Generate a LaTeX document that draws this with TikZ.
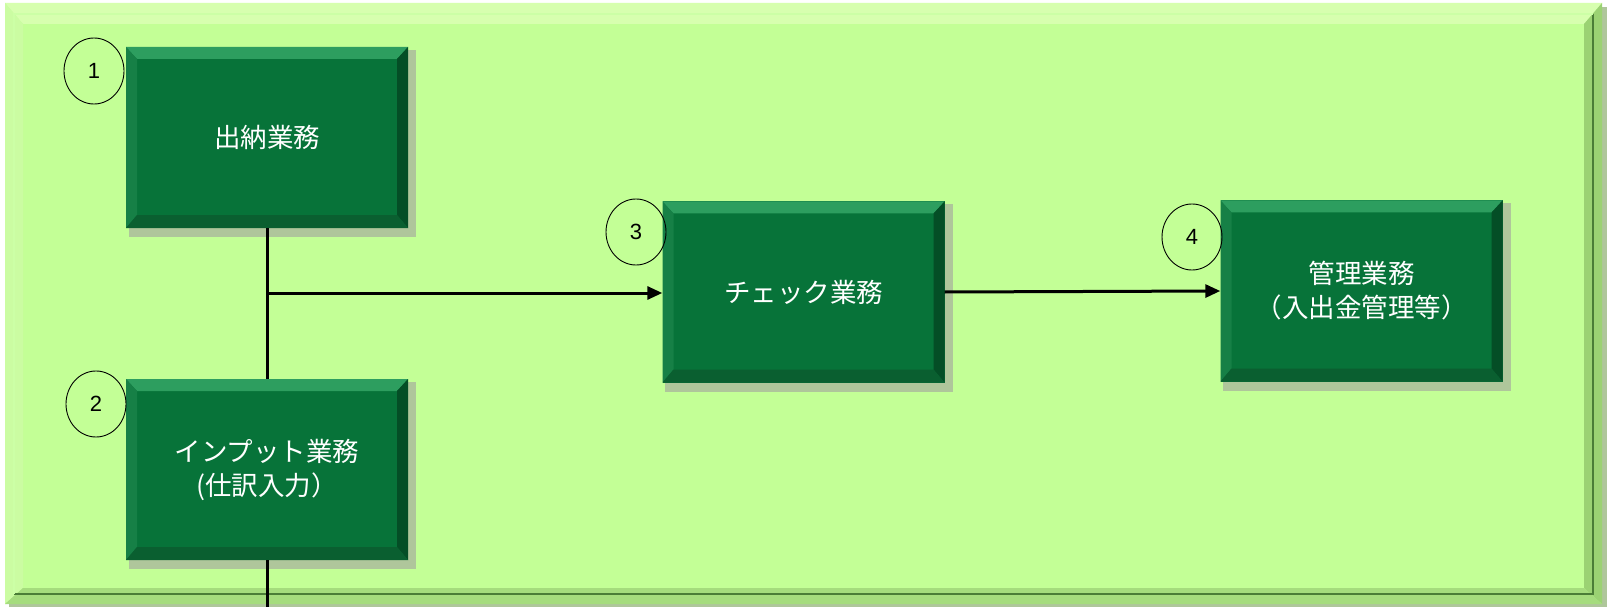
\documentclass[tikz,border=0pt]{standalone}
\usepackage{fontspec}
\setmainfont{Liberation Sans}
\newfontfamily\jpfont{Noto Sans CJK JP}
\usetikzlibrary{shapes.geometric,arrows.meta}
\definecolor{panelc}{RGB}{195,255,150}
\definecolor{paneltop}{RGB}{215,255,175}
\definecolor{panelleft}{RGB}{203,252,162}
\definecolor{panelright}{RGB}{155,210,115}
\definecolor{panelbot}{RGB}{165,220,125}
\definecolor{paneldark}{RGB}{75,125,55}
\definecolor{shadowc}{RGB}{175,198,155}
\definecolor{boxc}{RGB}{7,115,57}
\definecolor{boxtop}{RGB}{45,158,95}
\definecolor{boxleft}{RGB}{22,128,70}
\definecolor{boxright}{RGB}{4,78,38}
\definecolor{boxbot}{RGB}{10,95,48}
\pgfdeclarelayer{panellayer}
\pgfdeclarelayer{shadelayer}
\pgfsetlayers{panellayer,shadelayer,main}
\tikzset{
  bevelbox/.style={minimum width=282bp, minimum height=181bp, inner sep=0pt,
    fill=boxc, text=white, align=center,
    font=\jpfont\fontsize{26.5bp}{34bp}\selectfont,
    path picture={
      \fill[boxtop] (path picture bounding box.north west) -- (path picture bounding box.north east)
        -- ([shift={(-11bp,-12bp)}]path picture bounding box.north east)
        -- ([shift={(11bp,-12bp)}]path picture bounding box.north west) -- cycle;
      \fill[boxleft] (path picture bounding box.north west) -- (path picture bounding box.south west)
        -- ([shift={(11bp,13bp)}]path picture bounding box.south west)
        -- ([shift={(11bp,-12bp)}]path picture bounding box.north west) -- cycle;
      \fill[boxright] (path picture bounding box.north east) -- (path picture bounding box.south east)
        -- ([shift={(-11bp,13bp)}]path picture bounding box.south east)
        -- ([shift={(-11bp,-12bp)}]path picture bounding box.north east) -- cycle;
      \fill[boxbot] (path picture bounding box.south west) -- (path picture bounding box.south east)
        -- ([shift={(-11bp,13bp)}]path picture bounding box.south east)
        -- ([shift={(11bp,13bp)}]path picture bounding box.south west) -- cycle;
    }},
  numcircle/.style={ellipse, draw=black, line width=0.9bp, minimum width=60bp,
    minimum height=66bp, inner sep=0pt, font=\fontsize{22bp}{26bp}\selectfont},
  conn/.style={line width=3bp, draw=black},
  arr/.style={conn, -{Triangle[length=15bp,width=13bp]}},
}
\begin{document}
\begin{tikzpicture}[x=1bp,y=-1bp]
\useasboundingbox (0,0) rectangle (1607,607);

% boxes
\node[bevelbox] (b1) at (267,137.5) {出納業務};
\node[bevelbox] (b2) at (267,469.5) {インプット業務\\(仕訳入力）};
\node[bevelbox] (b3) at (803.5,292) {チェック業務};
\node[bevelbox] (b4) at (1361.5,291) {管理業務\\（入出金管理等）};

% panel and shadows
\begin{pgfonlayer}{panellayer}
  \fill[white] (0,0) rectangle (1607,607);
  \fill[shadowc] (9,7) rectangle (1607,607);
  \fill[panelc] (5,3) rectangle (1602,604);
  \fill[paneltop] (5,3) -- (1602,3) -- (1584,24) -- (23,24) -- cycle;
  \fill[panelleft] (5,3) -- (5,604) -- (23,588) -- (23,24) -- cycle;
  \fill[panelright] (1602,3) -- (1602,604) -- (1584,588) -- (1584,24) -- cycle;
  \fill[panelbot] (5,604) -- (1602,604) -- (1584,588) -- (23,588) -- cycle;
  \draw[paneldark, line width=2.5bp] (1593,14) -- (1593,594) -- (14,594);
  \draw[panelc!85!white, line width=1.5bp] (14,594) -- (14,14) -- (1593,14);
\end{pgfonlayer}
\begin{pgfonlayer}{shadelayer}
  \foreach \b in {b1,b2,b3,b4}{
    \fill[shadowc] ([shift={(3bp,-3bp)}]\b.north west) rectangle ([shift={(8bp,-9bp)}]\b.south east);
  }
\end{pgfonlayer}

% number circles
\node[numcircle] (c1) at (94,71) {1};
\node[numcircle] (c2) at (96,404) {2};
\node[numcircle] (c3) at (636,232) {3};
\node[numcircle] (c4) at (1192,237) {4};

% connectors
\coordinate (j) at (267,293);
\coordinate (e) at (267,607);
\draw[conn] (b1.south) -- (b2.north);
\draw[conn] (b2.south) -- (e);
\draw[arr] (j) -- (b3.west |- j);
\draw[arr] (b3.east) -- (b4.west);
\end{tikzpicture}
\end{document}
